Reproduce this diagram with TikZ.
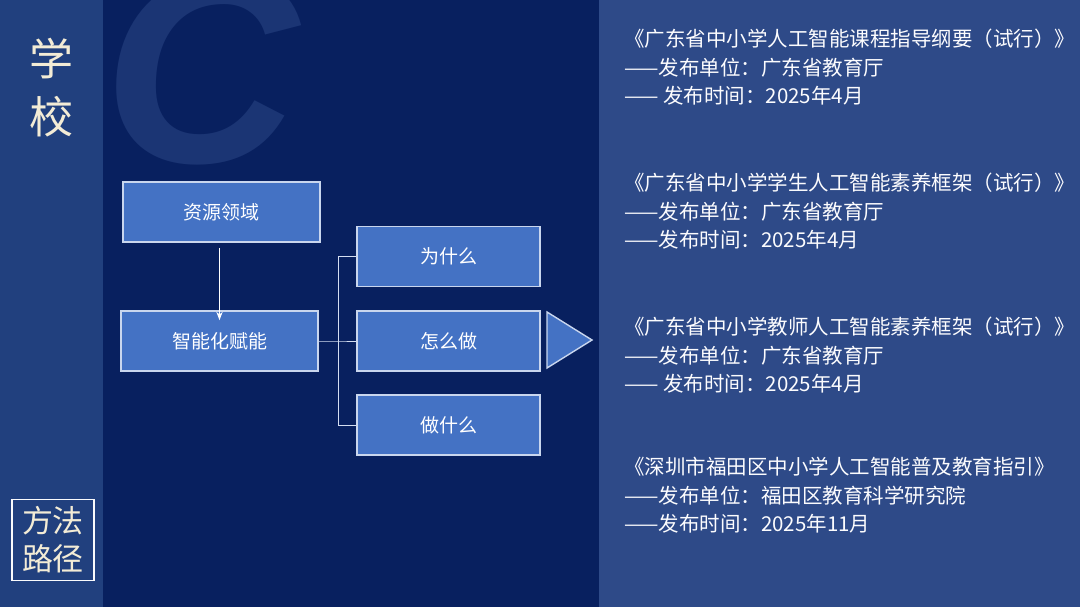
\documentclass[tikz,border=0pt]{standalone}
\usepackage{fontspec}
\setmainfont{Noto Sans CJK SC}
\newfontfamily\markfont{Liberation Sans}
\usetikzlibrary{arrows.meta,positioning}
\definecolor{DeepNavy}{HTML}{08205F}
\definecolor{SideNavy}{HTML}{21407E}
\definecolor{PanelBlue}{HTML}{2E4A88}
\definecolor{BoxBlue}{HTML}{4472C4}
\definecolor{BoxEdge}{HTML}{C9D6EE}
\definecolor{MarkBlue}{HTML}{1B3574}
\definecolor{Cream}{HTML}{F3ECD6}

\begin{document}
\begin{tikzpicture}[
  x=1pt, y=-1pt,
  >=Stealth,
  flowbox/.style={rectangle, draw=BoxEdge, line width=1.6pt, fill=BoxBlue, text=white, minimum width=197pt, minimum height=60pt, inner sep=0pt, font=\fontsize{19}{22}\selectfont},
  askbox/.style={flowbox, minimum width=183pt},
  doctext/.style={anchor=north west, align=left, text=white!94!BoxEdge, inner sep=0pt, font=\fontsize{20.5}{28.5}\selectfont},
  linkline/.style={draw=BoxEdge!80, line width=0.8pt},
]
% background panels
\fill[DeepNavy] (0,0) rectangle (1080,607);
\fill[SideNavy] (0,0) rectangle (103,607);
\fill[PanelBlue] (599,0) rectangle (1080,607);
\useasboundingbox (0,0) rectangle (1080,607);

% watermark
\begin{scope}
  \clip (104,0) rectangle (598,607);
  \node[text=MarkBlue, inner sep=0pt, font=\fontsize{270}{270}\markfont\bfseries\itshape] (mark) at (201,70) {C};
\end{scope}

% side titles
\node[text=Cream, align=center, font=\fontsize{44}{58}\selectfont] (school) at (52,88) {学\\校};
\node[draw=white!90!BoxEdge, line width=1.4pt, minimum width=82pt, minimum height=81pt, text=Cream, align=center, font=\fontsize{31}{38}\selectfont] (method) at (53,540) {方法\\路径};

% flow boxes
\node[flowbox] (res) at (221.5,212) {资源领域};
\node[flowbox] (ai) at (219.5,341) {智能化赋能};
\node[askbox] (why) at (448.5,256.5) {为什么};
\node[askbox] (how) at (448.5,341) {怎么做};
\node[askbox] (what) at (448.5,425) {做什么};
\draw[->, white, line width=1.2pt] ([yshift=-5pt]res.south -| 219.5,0) coordinate (resout) -- ([yshift=-10pt]ai.north);
\coordinate (fork) at (338,341);
\draw[linkline] (ai.east) -- (fork) -- (how.west);
\draw[linkline] (fork |- why.west) -- (why.west);
\draw[linkline] (fork |- what.west) -- (what.west);
\draw[linkline] (fork |- why.west) -- (fork |- what.west);

% pointer
\coordinate (tipa) at (547,312);
\coordinate (tipb) at (547,368);
\coordinate (tipc) at (592,340);
\draw[fill=BoxBlue, draw=BoxEdge, line width=1.4pt, line join=miter] (tipa) -- (tipc) -- (tipb) -- cycle;

% documents
\node[doctext] (doc1) at (624,29) {《广东省中小学人工智能课程指导纲要（试行）》\\——发布单位：广东省教育厅\\—— 发布时间：2025年4月};
\node[doctext] (doc2) at (624,173) {《广东省中小学学生人工智能素养框架（试行）》\\——发布单位：广东省教育厅\\——发布时间：2025年4月};
\node[doctext] (doc3) at (624,317) {《广东省中小学教师人工智能素养框架（试行）》\\——发布单位：广东省教育厅\\—— 发布时间：2025年4月};
\node[doctext] (doc4) at (624,457) {《深圳市福田区中小学人工智能普及教育指引》\\——发布单位：福田区教育科学研究院\\——发布时间：2025年11月};
\end{tikzpicture}
\end{document}
